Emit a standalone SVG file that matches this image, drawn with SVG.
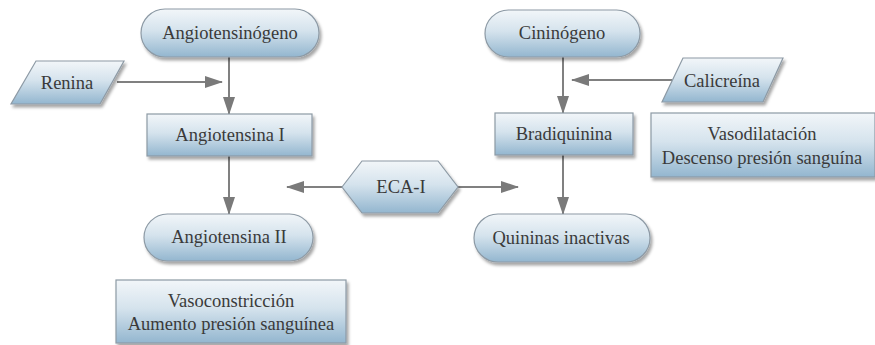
<svg xmlns="http://www.w3.org/2000/svg" width="875" height="345" viewBox="0 0 875 345">
  <defs>
    <linearGradient id="fillGrad" x1="0" y1="0" x2="0" y2="1">
      <stop offset="0" stop-color="#f2f6f9"/>
      <stop offset="0.45" stop-color="#d5e3ed"/>
      <stop offset="1" stop-color="#93b6cf"/>
    </linearGradient>
    <filter id="shadow" x="-10%" y="-20%" width="130%" height="160%">
      <feDropShadow dx="2" dy="3" stdDeviation="1.6" flood-color="#000" flood-opacity="0.35"/>
    </filter>
    <marker id="arrow" viewBox="0 0 18 12" refX="17" refY="6" markerWidth="18" markerHeight="12" markerUnits="userSpaceOnUse" orient="auto">
      <path d="M0,0 L18,6 L0,12 Z" fill="#7a7a7a"/>
    </marker>
  </defs>
  <style>
    .shape { fill: url(#fillGrad); stroke: #8d9aa5; stroke-width: 1.2; filter: url(#shadow); }
    .label { font-family: 'Liberation Serif', 'DejaVu Serif', serif; font-size: 18.5px; fill: #3a3a3a; text-anchor: middle; }
    .conn { stroke: #808080; stroke-width: 2; fill: none; marker-end: url(#arrow); }
  </style>

  <rect width="875" height="345" fill="#ffffff"/>

  <!-- connectors -->
  <g id="connectors">
    <line class="conn" x1="229" y1="57" x2="229" y2="114"/>
    <line class="conn" x1="117" y1="82" x2="222" y2="82"/>
    <line class="conn" x1="229" y1="156" x2="229" y2="214"/>
    <line class="conn" x1="342" y1="187" x2="287" y2="187"/>
    <line class="conn" x1="458" y1="187" x2="518" y2="187"/>
    <line class="conn" x1="563" y1="57" x2="563" y2="113"/>
    <line class="conn" x1="672" y1="80" x2="572" y2="80"/>
    <line class="conn" x1="563" y1="155" x2="563" y2="214"/>
  </g>

  <!-- nodes -->
  <g id="angiotensinogeno">
    <rect class="shape" x="141" y="9" width="178" height="48" rx="24"/>
    <text class="label" x="230" y="39">Angiotensinógeno</text>
  </g>
  <g id="renina">
    <polygon class="shape" points="36,61 124,61 100,104 11,104"/>
    <text class="label" x="67" y="89">Renina</text>
  </g>
  <g id="angiotensina-i">
    <rect class="shape" x="147" y="114" width="165" height="42"/>
    <text class="label" x="230" y="141">Angiotensina I</text>
  </g>
  <g id="angiotensina-ii">
    <rect class="shape" x="144" y="214" width="169" height="47" rx="23.5"/>
    <text class="label" x="229" y="243">Angiotensina II</text>
  </g>
  <g id="vasoconstriccion">
    <rect class="shape" x="116" y="280" width="230" height="63"/>
    <text class="label" x="231" y="307">Vasoconstricción</text>
    <text class="label" x="231" y="330">Aumento presión sanguínea</text>
  </g>
  <g id="eca-i">
    <polygon class="shape" points="342,187 362,161 438,161 458,187 438,213 362,213"/>
    <text class="label" x="401" y="193">ECA-I</text>
  </g>
  <g id="cininogeno">
    <rect class="shape" x="485" y="10" width="155" height="47" rx="23.5"/>
    <text class="label" x="562" y="39">Cininógeno</text>
  </g>
  <g id="calicreina">
    <polygon class="shape" points="683,58 783,58 763,102 662,102"/>
    <text class="label" x="722" y="87">Calicreína</text>
  </g>
  <g id="bradiquinina">
    <rect class="shape" x="495" y="113" width="138" height="42"/>
    <text class="label" x="564" y="140">Bradiquinina</text>
  </g>
  <g id="vasodilatacion">
    <rect class="shape" x="651" y="113" width="224" height="64"/>
    <text class="label" x="762" y="140">Vasodilatación</text>
    <text class="label" x="762" y="164">Descenso presión sanguína</text>
  </g>
  <g id="quininas-inactivas">
    <rect class="shape" x="474" y="214" width="176" height="48" rx="24"/>
    <text class="label" x="561" y="244">Quininas inactivas</text>
  </g>
</svg>
